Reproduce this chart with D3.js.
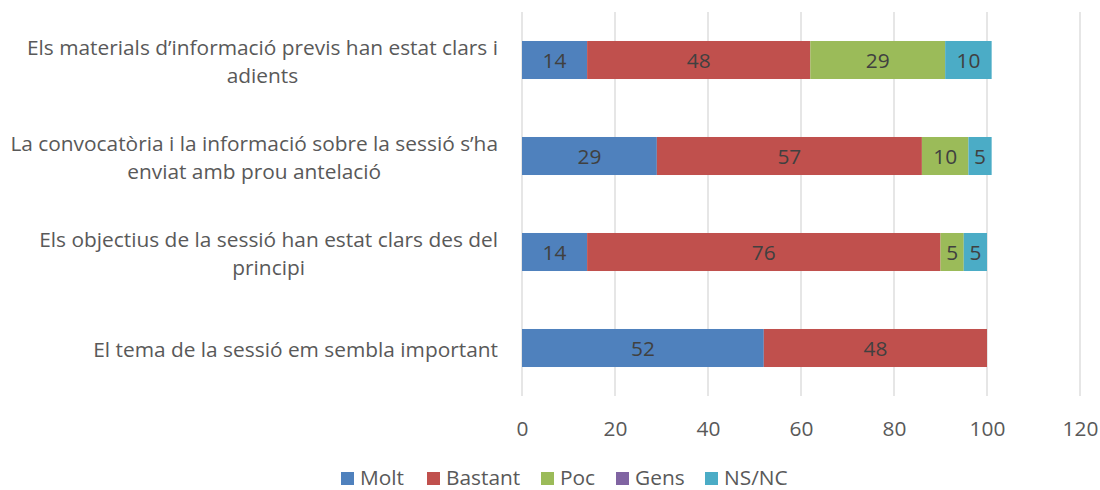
<!DOCTYPE html>
<html>
<head>
<meta charset="utf-8">
<script src="https://cdn.jsdelivr.net/npm/d3@7"></script>
<style>
  html, body { margin: 0; padding: 0; background: #fff; }
  svg { display: block; font-family: "Open Sans", Lato, sans-serif; }
</style>
</head>
<body>
<svg id="chart" width="1100" height="490"></svg>
<script>
const categories = [
  ["Els materials d\u2019informació previs han estat clars i", "adients"],
  ["La convocatòria i la informació sobre la sessió s\u2019ha", "enviat amb prou antelació"],
  ["Els objectius de la sessió han estat clars des del", "principi"],
  ["El tema de la sessió em sembla important"]
];
const seriesNames = ["Molt", "Bastant", "Poc", "Gens", "NS/NC"];
const molt    = [14, 29, 14, 52];
const bastant = [48, 57, 76, 48];
const poc     = [29, 10, 5, 0];
const gens    = [0, 0, 0, 0];
const nsnc    = [10, 5, 5, 0];
const xTicks  = [0, 20, 40, 60, 80, 100, 120];
const colors  = ["#4F81BD", "#C0504D", "#9BBB59", "#8064A2", "#4BACC6"];

const seriesValues = [molt, bastant, poc, gens, nsnc];
const rows = categories.map((c, i) => {
  const r = { idx: i };
  seriesNames.forEach((s, j) => r[s] = seriesValues[j][i]);
  return r;
});

const svg = d3.select("#chart");
const plotLeft = 522, plotRight = 1080, plotTop = 12, plotBottom = 396;

// determine font size so the widest label line spans like the reference
const probe = svg.append("text").attr("font-size", 19).text(categories[1][0]);
const probeW = probe.node().getComputedTextLength();
probe.remove();
const fs = Math.min(22, Math.max(16, 19 * 488 / probeW));

const x = d3.scaleLinear().domain([0, 120]).range([plotLeft, plotRight]);
const y = d3.scaleBand().domain(d3.range(categories.length)).range([plotTop, plotBottom]).paddingInner(0.604).paddingOuter(0.302);

// gridlines
svg.append("g").selectAll("line").data(xTicks).join("line")
  .attr("x1", d => x(d)).attr("x2", d => x(d))
  .attr("y1", plotTop).attr("y2", plotBottom)
  .attr("stroke", "#D9D9D9").attr("stroke-width", 1.3);

// x axis labels
const xAxis = d3.axisBottom(x).tickValues(xTicks).tickSize(0).tickPadding(0);
const gx = svg.append("g").attr("transform", `translate(0,${plotBottom + 25})`).call(xAxis);
gx.select(".domain").remove();
gx.selectAll("text").attr("font-size", fs).attr("fill", "#595959")
  .attr("font-family", "'Open Sans', sans-serif").attr("dy", "0.36em").attr("y", 7);

// stacked bars
const stack = d3.stack().keys(seriesNames)(rows);
const layers = svg.append("g").selectAll("g").data(stack).join("g")
  .attr("fill", (d, i) => colors[i]);
layers.selectAll("rect").data(d => d).join("rect")
  .attr("x", d => x(d[0]))
  .attr("width", d => x(d[1]) - x(d[0]))
  .attr("y", d => y(d.data.idx))
  .attr("height", y.bandwidth());

// value labels
stack.forEach((layer) => {
  svg.append("g").selectAll("text").data(layer.filter(d => d[1] - d[0] > 0)).join("text")
    .attr("x", d => (x(d[0]) + x(d[1])) / 2)
    .attr("y", d => y(d.data.idx) + y.bandwidth() / 2)
    .attr("dy", "0.36em")
    .attr("text-anchor", "middle")
    .attr("font-size", fs)
    .attr("fill", "#404040")
    .text(d => d[1] - d[0]);
});

// category labels
const lineH = 28;
categories.forEach((lines, i) => {
  const cy = y(i) + y.bandwidth() / 2 + 1;
  const g = svg.append("g");
  const texts = g.selectAll("text").data(lines).join("text")
    .attr("font-size", fs).attr("fill", "#595959")
    .attr("text-anchor", "middle")
    .attr("y", (d, k) => cy + (k - (lines.length - 1) / 2) * lineH)
    .attr("dy", "0.36em")
    .text(d => d);
  let maxW = 0;
  texts.each(function() { maxW = Math.max(maxW, this.getComputedTextLength()); });
  texts.attr("x", 498 - maxW / 2);
});

// legend
const legendX = [341, 427, 541, 616, 705];
const lg = svg.append("g");
seriesNames.forEach((s, i) => {
  lg.append("rect").attr("x", legendX[i]).attr("y", 472).attr("width", 13).attr("height", 13).attr("fill", colors[i]);
  lg.append("text").attr("x", legendX[i] + 19).attr("y", 477).attr("dy", "0.36em")
    .attr("font-size", fs).attr("fill", "#595959").text(s);
});
</script>
</body>
</html>
